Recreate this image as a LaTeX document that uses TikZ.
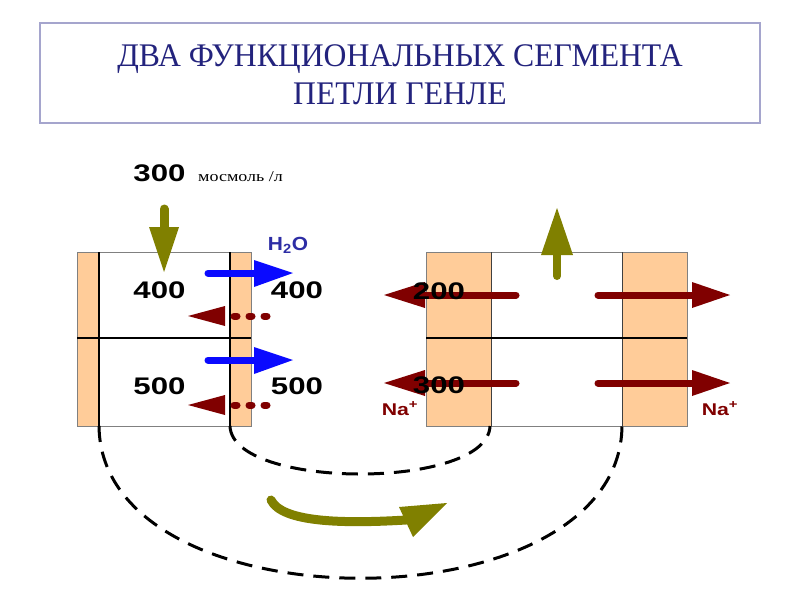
\documentclass[tikz,border=0pt]{standalone}
\usepackage{fontspec}
\setmainfont{Liberation Serif}
\setsansfont{Liberation Sans}
\definecolor{peach}{RGB}{255,204,153}
\definecolor{dred}{RGB}{128,0,0}
\definecolor{olivea}{RGB}{128,128,0}
\definecolor{bluea}{RGB}{10,10,255}
\definecolor{navyt}{RGB}{35,35,125}
\definecolor{h2oblue}{RGB}{45,45,165}
\definecolor{framec}{RGB}{165,165,205}
\newcommand\wnum[1]{\scalebox{1.3}[1]{#1}}
\begin{document}
\begin{tikzpicture}[x=1pt,y=-1pt,
  titletxt/.style={anchor=base,inner sep=0pt,text=navyt,font=\fontsize{33}{39}\selectfont},
  numtxt/.style={anchor=base,inner sep=0pt,font=\sffamily\bfseries\fontsize{24}{28}\selectfont},
  natxt/.style={anchor=base,inner sep=0pt,text=dred,font=\sffamily\bfseries\fontsize{17}{20}\selectfont},
  stripfill/.style={fill=peach},
  wall/.style={line width=1.2pt,black},
  outerframe/.style={line width=0.8pt,gray},
  dashcurve/.style={line width=3pt,dash pattern=on 16pt off 10pt,black},
  redshaft/.style={dred,line width=7pt,line cap=round},
  reddots/.style={dred,line width=7pt,line cap=round,dash pattern=on 3pt off 12pt},
  blueshaft/.style={bluea,line width=7pt,line cap=round},
  oliveshaft/.style={olivea,line width=8pt,line cap=round}]
\useasboundingbox (0,0) rectangle (800,600);
\fill[white] (0,0) rectangle (800,600);
% title
\draw[framec,line width=1.2pt] (40,23) rectangle (760,123);
\node[titletxt] (t1) at (400,66.5) {\scalebox{0.96}[1]{ДВА ФУНКЦИОНАЛЬНЫХ СЕГМЕНТА}};
\node[titletxt] (t2) at (400,104.5) {\scalebox{0.96}[1]{ПЕТЛИ ГЕНЛЕ}};
% left structure
\fill[stripfill] (77,252) rectangle (99,426);
\fill[stripfill] (230,252) rectangle (251,426);
\draw[outerframe] (77,252) rectangle (251,426);
\draw[wall] (99,252) -- (99,426) (230,252) -- (230,426);
\draw[wall] (77,338) -- (251,338);
% right structure
\fill[stripfill] (426,252) rectangle (491,426);
\fill[stripfill] (622,252) rectangle (687,426);
\draw[outerframe] (426,252) rectangle (687,426);
\draw[line width=1pt,darkgray] (491,252) -- (491,426) (622,252) -- (622,426);
\draw[wall] (426,338) -- (687,338);
% dashed loops
\coordinate (a1) at (230,426);
\coordinate (b1) at (490,426);
\coordinate (a2) at (99,426);
\coordinate (b2) at (622,426);
\draw[dashcurve] (a1) .. controls (232,490) and (488,490) .. (b1);
\draw[dashcurve] (a2) .. controls (101,629) and (620,629) .. (b2);
% olive down arrow
\draw[oliveshaft,line width=9pt] (164,209) -- (164,230);
\fill[olivea] (149,227) -- (179,227) -- (164,272) -- cycle;
% olive up arrow
\fill[olivea] (557,208) -- (573,255) -- (541,255) -- cycle;
\draw[oliveshaft] (557,253) -- (557,276);
% curved olive arrow
\draw[oliveshaft,line width=9pt] (271,500) .. controls (282,522) and (340,524) .. (406,520);
\fill[olivea] (399,507) -- (447,503) -- (413,537) -- cycle;
% blue arrows
\draw[blueshaft] (208,273) -- (256,273);
\fill[bluea] (254,260) -- (293,273) -- (254,287) -- cycle;
\draw[blueshaft] (208,360) -- (256,360);
\fill[bluea] (254,347) -- (293,360) -- (254,374) -- cycle;
% dotted red arrows
\fill[dred] (188,316) -- (225,306) -- (225,326) -- cycle;
\draw[reddots] (234,316) -- (271,316);
\fill[dred] (188,405) -- (225,395) -- (225,415) -- cycle;
\draw[reddots] (234,405) -- (271,405);
% red arrows right
\fill[dred] (384,295) -- (425,282) -- (425,308) -- cycle;
\draw[redshaft] (424,295) -- (516,295);
\draw[redshaft] (598,295) -- (693,295);
\fill[dred] (692,282) -- (730,295) -- (692,308) -- cycle;
\fill[dred] (384,383) -- (425,370) -- (425,396) -- cycle;
\draw[redshaft] (424,383) -- (516,383);
\draw[redshaft] (598,383) -- (693,383);
\fill[dred] (692,370) -- (730,383) -- (692,396) -- cycle;
% texts
\node[numtxt] (n300) at (159.5,181) {\wnum{300}};
\node[anchor=base west,inner sep=0pt,font=\fontsize{15}{18}\selectfont] (unit) at (198,181) {\scalebox{1.2}[1]{мосмоль /л}};
\node[anchor=base,inner sep=0pt,text=h2oblue,font=\sffamily\bfseries\fontsize{19}{22}\selectfont] (h2o) at (288,250) {\scalebox{1.1}[1]{H\textsubscript{2}O}};
\node[numtxt] (l400) at (159.5,298.5) {\wnum{400}};
\node[numtxt] (r400) at (297,298.5) {\wnum{400}};
\node[numtxt] (l500) at (159.5,394) {\wnum{500}};
\node[numtxt] (r500) at (297,394) {\wnum{500}};
\node[numtxt] (n200) at (439,299.5) {\wnum{200}};
\node[numtxt] (m300) at (439,393.5) {\wnum{300}};
\node[natxt] (na1) at (400,415) {\scalebox{1.25}[1]{Na\textsuperscript{+}}};
\node[natxt] (na2) at (720,415) {\scalebox{1.25}[1]{Na\textsuperscript{+}}};
\end{tikzpicture}
\end{document}
